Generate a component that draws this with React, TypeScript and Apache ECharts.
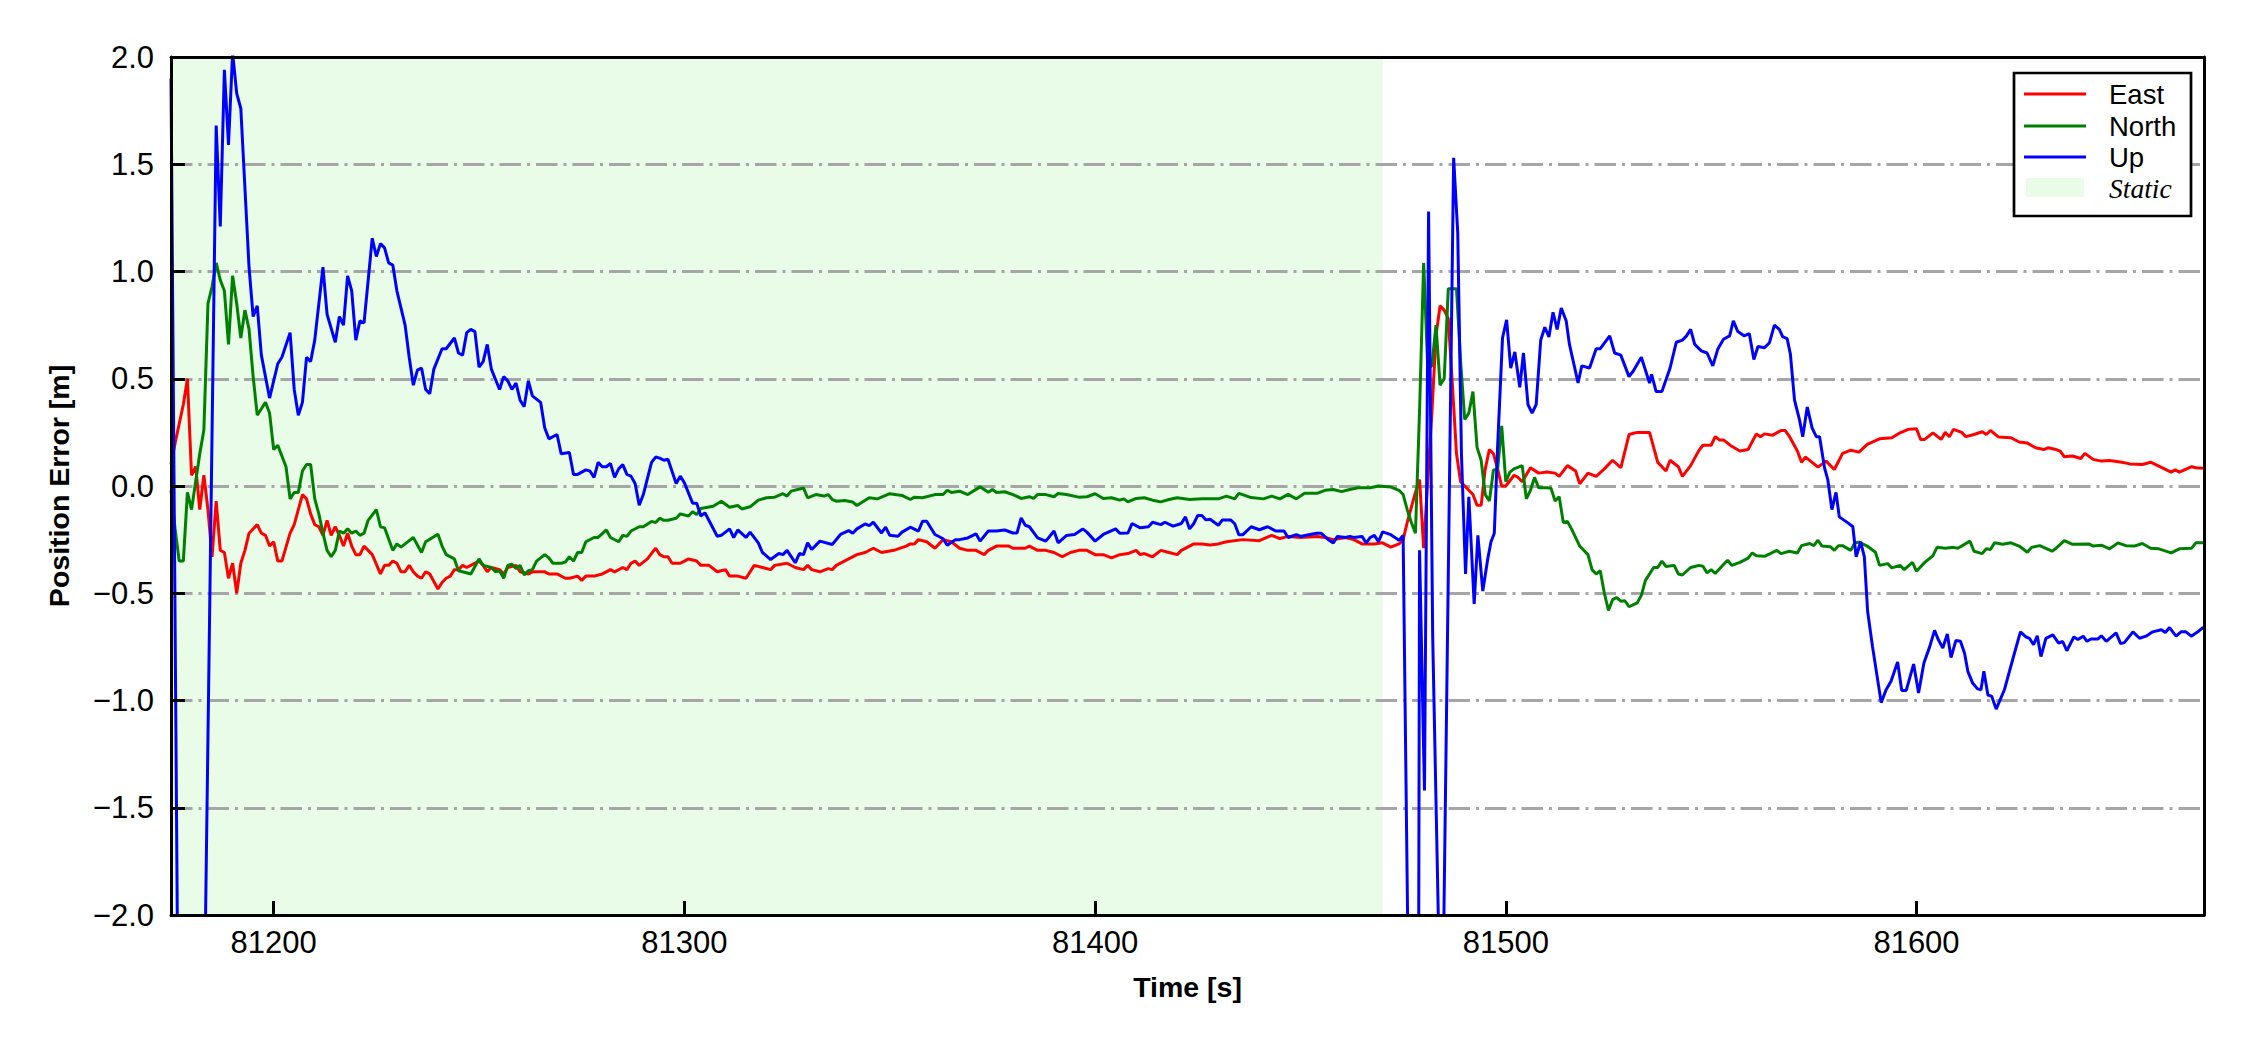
import React, { useEffect, useRef } from 'react';
import * as echarts from 'echarts';

const X_MIN = 81175;
const X_MAX = 81670;
const Y_MIN = -2;
const Y_MAX = 2;
const xTickValues = [81200, 81300, 81400, 81500, 81600];
const staticRange = [81175, 81470];

const eastData: number[][] = [
[81175,0.10],[81176,0.20],[81177,0.29],[81178,0.38],[81179,0.50],[81180,0.05],[81181,0.09],[81182,-0.11],[81183,0.05],[81184,-0.11],[81185,-0.33],[81186,-0.07],[81187,-0.30],[81188,-0.31],[81189,-0.43],[81190,-0.36],[81191,-0.50],[81192,-0.36],[81193,-0.30],[81194,-0.22],[81196,-0.18],[81197,-0.22],[81198,-0.23],[81199,-0.28],[81200,-0.26],[81201,-0.35],[81202,-0.35],[81204,-0.22],[81205,-0.18],[81207,-0.04],[81208,-0.06],[81209,-0.13],[81210,-0.18],[81211,-0.19],[81212,-0.23],[81213,-0.16],[81214,-0.23],[81215,-0.19],[81216,-0.23],[81217,-0.28],[81218,-0.22],[81219,-0.28],[81220,-0.32],[81221,-0.32],[81222,-0.28],[81223,-0.30],[81224,-0.32],[81226,-0.41],[81227,-0.37],[81228,-0.37],[81229,-0.35],[81230,-0.36],[81231,-0.40],[81232,-0.40],[81233,-0.37],[81234,-0.40],[81235,-0.42],[81236,-0.43],[81237,-0.40],[81238,-0.41],[81240,-0.48],[81241,-0.45],[81242,-0.43],[81243,-0.42],[81244,-0.39],[81245,-0.39],[81246,-0.37],[81247,-0.38],[81248,-0.37],[81250,-0.35],[81251,-0.37],[81252,-0.40],[81253,-0.38],[81255,-0.39],[81256,-0.41],[81257,-0.38],[81259,-0.37],[81260,-0.40],[81262,-0.41],[81263,-0.40],[81264,-0.40],[81266,-0.40],[81267,-0.41],[81269,-0.41],[81271,-0.43],[81272,-0.43],[81274,-0.42],[81275,-0.44],[81276,-0.42],[81278,-0.42],[81280,-0.41],[81281,-0.40],[81282,-0.39],[81283,-0.40],[81285,-0.38],[81286,-0.39],[81287,-0.36],[81288,-0.35],[81289,-0.37],[81291,-0.34],[81293,-0.29],[81294,-0.32],[81295,-0.33],[81296,-0.33],[81297,-0.36],[81299,-0.36],[81300,-0.35],[81301,-0.34],[81303,-0.35],[81304,-0.37],[81306,-0.37],[81308,-0.40],[81310,-0.39],[81311,-0.42],[81313,-0.42],[81315,-0.43],[81317,-0.37],[81319,-0.38],[81321,-0.39],[81322,-0.37],[81325,-0.36],[81327,-0.38],[81329,-0.39],[81330,-0.37],[81331,-0.39],[81333,-0.40],[81335,-0.385],[81336,-0.39],[81337,-0.37],[81340,-0.34],[81342,-0.32],[81344,-0.31],[81346,-0.29],[81348,-0.31],[81351,-0.30],[81354,-0.28],[81355,-0.27],[81356,-0.27],[81357,-0.25],[81359,-0.26],[81361,-0.29],[81363,-0.25],[81365,-0.26],[81367,-0.29],[81369,-0.30],[81371,-0.30],[81373,-0.32],[81374,-0.30],[81376,-0.28],[81379,-0.28],[81380,-0.29],[81383,-0.29],[81384,-0.28],[81386,-0.30],[81388,-0.30],[81390,-0.31],[81392,-0.33],[81394,-0.31],[81396,-0.30],[81398,-0.30],[81400,-0.32],[81402,-0.32],[81404,-0.335],[81406,-0.32],[81408,-0.315],[81410,-0.30],[81411,-0.32],[81412,-0.315],[81414,-0.33],[81416,-0.30],[81418,-0.31],[81420,-0.32],[81421,-0.30],[81423,-0.28],[81424,-0.27],[81426,-0.27],[81428,-0.275],[81430,-0.27],[81432,-0.26],[81436,-0.25],[81440,-0.255],[81443,-0.23],[81445,-0.245],[81447,-0.235],[81450,-0.24],[81454,-0.235],[81456,-0.24],[81458,-0.25],[81461,-0.24],[81463,-0.25],[81465,-0.27],[81468,-0.27],[81470,-0.265],[81472,-0.285],[81474,-0.27],[81475,-0.25],[81476,-0.17],[81477,-0.10],[81478,-0.03],[81479,0.03],[81480,-0.29],[81482,0.34],[81483,0.70],[81484,0.84],[81485,0.82],[81486,0.78],[81487,0.47],[81488,0.15],[81489,0.02],[81490,0.0],[81491,-0.02],[81492,-0.04],[81493,-0.09],[81494,-0.09],[81495,0.08],[81496,0.17],[81497,0.15],[81498,0.08],[81499,0.0],[81500,0.0],[81502,0.05],[81503,0.04],[81504,0.02],[81506,0.085],[81508,0.06],[81510,0.065],[81512,0.06],[81513,0.045],[81515,0.095],[81517,0.07],[81518,0.01],[81520,0.06],[81522,0.045],[81524,0.08],[81526,0.12],[81528,0.085],[81530,0.24],[81532,0.25],[81535,0.25],[81537,0.11],[81539,0.07],[81540,0.12],[81542,0.09],[81543,0.045],[81545,0.095],[81547,0.165],[81548,0.19],[81550,0.19],[81551,0.23],[81552,0.215],[81553,0.215],[81555,0.185],[81557,0.163],[81559,0.17],[81561,0.243],[81562,0.23],[81563,0.243],[81565,0.237],[81567,0.259],[81568,0.259],[81569,0.233],[81571,0.163],[81572,0.111],[81573,0.135],[81576,0.088],[81578,0.116],[81580,0.077],[81582,0.152],[81584,0.167],[81586,0.158],[81588,0.194],[81591,0.22],[81594,0.225],[81596,0.248],[81598,0.264],[81600,0.267],[81601,0.217],[81602,0.217],[81604,0.248],[81606,0.217],[81607,0.25],[81608,0.23],[81609,0.264],[81611,0.25],[81612,0.23],[81614,0.24],[81616,0.253],[81617,0.24],[81618,0.259],[81620,0.228],[81623,0.225],[81625,0.205],[81627,0.2],[81629,0.178],[81631,0.17],[81632,0.178],[81634,0.17],[81635,0.163],[81636,0.136],[81638,0.14],[81640,0.128],[81641,0.152],[81643,0.124],[81645,0.116],[81647,0.119],[81650,0.111],[81652,0.103],[81655,0.10],[81657,0.111],[81659,0.093],[81662,0.065],[81663,0.075],[81664,0.065],[81667,0.09],[81668,0.085],[81670,0.083]
];

const northData: number[][] = [
[81175,-0.02],[81176,-0.2],[81177,-0.35],[81178,-0.35],[81179,-0.03],[81180,-0.11],[81181,0.02],[81182,0.15],[81183,0.26],[81184,0.85],[81185,0.93],[81186,1.04],[81187,0.96],[81188,0.91],[81189,0.66],[81190,0.98],[81191,0.85],[81192,0.69],[81193,0.82],[81194,0.73],[81195,0.51],[81196,0.33],[81197,0.36],[81198,0.39],[81199,0.34],[81200,0.17],[81201,0.19],[81202,0.14],[81203,0.09],[81204,-0.06],[81205,-0.03],[81206,-0.03],[81207,0.07],[81208,0.10],[81209,0.10],[81210,-0.06],[81211,-0.13],[81212,-0.22],[81213,-0.30],[81214,-0.33],[81215,-0.30],[81216,-0.21],[81217,-0.22],[81218,-0.20],[81219,-0.22],[81220,-0.21],[81221,-0.23],[81222,-0.22],[81223,-0.16],[81225,-0.11],[81226,-0.19],[81227,-0.195],[81229,-0.30],[81230,-0.27],[81231,-0.285],[81232,-0.27],[81234,-0.24],[81236,-0.31],[81237,-0.26],[81240,-0.225],[81241,-0.28],[81242,-0.32],[81244,-0.34],[81245,-0.395],[81246,-0.40],[81248,-0.41],[81250,-0.34],[81251,-0.37],[81253,-0.38],[81254,-0.40],[81255,-0.395],[81256,-0.43],[81257,-0.37],[81258,-0.365],[81259,-0.385],[81260,-0.37],[81261,-0.415],[81262,-0.395],[81263,-0.39],[81264,-0.35],[81266,-0.32],[81267,-0.335],[81268,-0.36],[81270,-0.36],[81271,-0.355],[81272,-0.33],[81273,-0.35],[81274,-0.31],[81275,-0.31],[81276,-0.26],[81278,-0.24],[81279,-0.24],[81281,-0.205],[81282,-0.24],[81284,-0.26],[81285,-0.23],[81286,-0.235],[81287,-0.21],[81289,-0.19],[81290,-0.19],[81292,-0.165],[81293,-0.17],[81294,-0.15],[81295,-0.16],[81296,-0.16],[81298,-0.15],[81299,-0.13],[81301,-0.14],[81302,-0.12],[81303,-0.133],[81304,-0.105],[81307,-0.094],[81309,-0.071],[81311,-0.099],[81313,-0.091],[81314,-0.107],[81316,-0.097],[81318,-0.066],[81320,-0.055],[81322,-0.052],[81324,-0.036],[81325,-0.047],[81326,-0.024],[81329,-0.009],[81330,-0.055],[81332,-0.04],[81334,-0.047],[81335,-0.04],[81336,-0.063],[81337,-0.071],[81339,-0.068],[81341,-0.075],[81342,-0.091],[81345,-0.055],[81347,-0.06],[81350,-0.036],[81353,-0.044],[81355,-0.063],[81356,-0.052],[81358,-0.055],[81361,-0.04],[81363,-0.04],[81364,-0.02],[81365,-0.03],[81367,-0.024],[81369,-0.04],[81372,-0.004],[81374,-0.029],[81375,-0.016],[81376,-0.03],[81378,-0.027],[81380,-0.04],[81382,-0.058],[81384,-0.05],[81385,-0.058],[81386,-0.04],[81388,-0.04],[81390,-0.05],[81391,-0.035],[81393,-0.04],[81396,-0.052],[81398,-0.05],[81400,-0.036],[81402,-0.058],[81404,-0.055],[81406,-0.066],[81407,-0.06],[81408,-0.074],[81410,-0.058],[81412,-0.055],[81414,-0.066],[81416,-0.074],[81418,-0.063],[81420,-0.055],[81423,-0.063],[81426,-0.06],[81430,-0.06],[81432,-0.047],[81434,-0.06],[81435,-0.034],[81438,-0.054],[81441,-0.06],[81443,-0.047],[81445,-0.06],[81447,-0.039],[81449,-0.06],[81451,-0.034],[81454,-0.034],[81456,-0.02],[81458,-0.016],[81460,-0.026],[81462,-0.016],[81464,-0.008],[81467,-0.008],[81469,0.0],[81472,-0.005],[81474,-0.02],[81475,-0.04],[81476,-0.11],[81477,-0.17],[81478,-0.22],[81479,0.35],[81480,1.04],[81481,0.55],[81482,0.56],[81483,0.75],[81484,0.47],[81485,0.50],[81486,0.92],[81487,0.92],[81488,0.92],[81489,0.58],[81490,0.31],[81491,0.34],[81492,0.44],[81493,0.18],[81494,0.12],[81495,-0.04],[81496,-0.07],[81497,0.075],[81498,0.077],[81499,0.28],[81500,0.02],[81501,0.065],[81502,0.08],[81504,0.095],[81505,-0.06],[81506,-0.02],[81507,0.04],[81508,-0.008],[81510,-0.008],[81511,-0.01],[81512,-0.07],[81513,-0.05],[81514,-0.17],[81515,-0.165],[81516,-0.2],[81518,-0.28],[81520,-0.32],[81521,-0.39],[81522,-0.41],[81523,-0.395],[81524,-0.5],[81525,-0.58],[81526,-0.53],[81527,-0.52],[81528,-0.537],[81529,-0.535],[81530,-0.563],[81532,-0.545],[81533,-0.51],[81534,-0.44],[81536,-0.38],[81537,-0.38],[81538,-0.35],[81539,-0.375],[81541,-0.37],[81542,-0.41],[81543,-0.415],[81545,-0.38],[81546,-0.375],[81547,-0.37],[81548,-0.374],[81549,-0.405],[81550,-0.39],[81551,-0.408],[81553,-0.366],[81554,-0.346],[81555,-0.37],[81557,-0.356],[81559,-0.336],[81560,-0.312],[81561,-0.325],[81563,-0.328],[81566,-0.30],[81567,-0.315],[81569,-0.304],[81571,-0.312],[81572,-0.278],[81574,-0.268],[81575,-0.278],[81576,-0.253],[81577,-0.28],[81579,-0.283],[81580,-0.30],[81581,-0.278],[81582,-0.278],[81584,-0.30],[81585,-0.265],[81586,-0.262],[81588,-0.28],[81590,-0.309],[81591,-0.37],[81593,-0.362],[81594,-0.382],[81596,-0.37],[81597,-0.39],[81599,-0.356],[81600,-0.397],[81602,-0.356],[81604,-0.325],[81605,-0.286],[81607,-0.29],[81609,-0.286],[81610,-0.29],[81611,-0.28],[81613,-0.257],[81614,-0.304],[81616,-0.315],[81617,-0.293],[81618,-0.296],[81619,-0.265],[81621,-0.272],[81623,-0.265],[81625,-0.28],[81627,-0.309],[81628,-0.286],[81630,-0.278],[81633,-0.304],[81634,-0.29],[81636,-0.255],[81638,-0.272],[81642,-0.27],[81643,-0.28],[81645,-0.276],[81647,-0.293],[81648,-0.28],[81649,-0.265],[81651,-0.278],[81653,-0.28],[81655,-0.268],[81657,-0.29],[81659,-0.293],[81662,-0.312],[81664,-0.293],[81667,-0.29],[81668,-0.265],[81670,-0.265]
];

const upData: number[][] = [
[81175,1.9],[81177,-3.2],[81183,-2.6],[81186,1.68],[81187,1.21],[81188,1.94],[81189,1.59],[81190,2.02],[81191,1.83],[81192,1.76],[81194,1.02],[81195,0.79],[81196,0.84],[81197,0.61],[81199,0.41],[81201,0.57],[81202,0.60],[81204,0.715],[81205,0.45],[81206,0.33],[81207,0.39],[81208,0.60],[81209,0.58],[81210,0.68],[81212,1.02],[81213,0.80],[81215,0.67],[81216,0.79],[81217,0.75],[81218,0.98],[81219,0.91],[81220,0.68],[81221,0.77],[81222,0.76],[81224,1.155],[81225,1.07],[81226,1.13],[81227,1.11],[81228,1.04],[81229,1.03],[81230,0.91],[81232,0.75],[81233,0.60],[81234,0.47],[81235,0.54],[81236,0.55],[81237,0.45],[81238,0.43],[81239,0.545],[81241,0.64],[81242,0.64],[81244,0.69],[81245,0.62],[81246,0.61],[81247,0.715],[81248,0.73],[81249,0.72],[81250,0.554],[81251,0.58],[81252,0.66],[81253,0.545],[81255,0.45],[81256,0.51],[81257,0.49],[81258,0.45],[81259,0.48],[81260,0.40],[81261,0.37],[81262,0.49],[81263,0.42],[81265,0.39],[81266,0.27],[81267,0.22],[81269,0.24],[81270,0.15],[81272,0.156],[81273,0.054],[81274,0.054],[81276,0.075],[81277,0.07],[81278,0.04],[81279,0.11],[81280,0.09],[81281,0.09],[81282,0.105],[81283,0.04],[81284,0.08],[81285,0.10],[81286,0.054],[81287,0.046],[81288,0.012],[81289,-0.09],[81290,-0.04],[81292,0.11],[81293,0.135],[81294,0.13],[81295,0.12],[81296,0.125],[81298,0.012],[81299,0.046],[81300,0.015],[81302,-0.08],[81303,-0.08],[81304,-0.14],[81305,-0.125],[81308,-0.234],[81309,-0.23],[81311,-0.20],[81312,-0.24],[81313,-0.205],[81315,-0.24],[81316,-0.215],[81318,-0.265],[81319,-0.31],[81321,-0.343],[81323,-0.315],[81324,-0.32],[81325,-0.30],[81327,-0.358],[81328,-0.315],[81329,-0.32],[81330,-0.265],[81331,-0.296],[81333,-0.257],[81336,-0.273],[81338,-0.226],[81340,-0.208],[81341,-0.22],[81342,-0.20],[81344,-0.177],[81345,-0.185],[81346,-0.169],[81348,-0.219],[81349,-0.192],[81350,-0.23],[81352,-0.234],[81353,-0.215],[81355,-0.192],[81357,-0.21],[81358,-0.164],[81359,-0.164],[81361,-0.226],[81363,-0.246],[81364,-0.276],[81366,-0.25],[81367,-0.25],[81369,-0.242],[81371,-0.223],[81372,-0.257],[81374,-0.21],[81376,-0.21],[81378,-0.205],[81380,-0.219],[81381,-0.219],[81382,-0.149],[81383,-0.183],[81384,-0.19],[81386,-0.242],[81388,-0.257],[81390,-0.21],[81391,-0.265],[81393,-0.231],[81395,-0.226],[81397,-0.20],[81398,-0.215],[81400,-0.257],[81402,-0.226],[81405,-0.20],[81406,-0.22],[81408,-0.219],[81409,-0.175],[81411,-0.195],[81413,-0.19],[81414,-0.169],[81416,-0.18],[81417,-0.169],[81419,-0.187],[81421,-0.175],[81422,-0.144],[81423,-0.2],[81424,-0.176],[81425,-0.137],[81426,-0.137],[81427,-0.158],[81428,-0.155],[81430,-0.183],[81431,-0.158],[81433,-0.158],[81434,-0.176],[81435,-0.227],[81436,-0.227],[81438,-0.19],[81440,-0.204],[81442,-0.19],[81444,-0.21],[81446,-0.21],[81447,-0.24],[81449,-0.227],[81450,-0.235],[81452,-0.227],[81454,-0.22],[81455,-0.22],[81457,-0.253],[81458,-0.266],[81459,-0.235],[81461,-0.24],[81462,-0.235],[81463,-0.24],[81465,-0.235],[81466,-0.266],[81467,-0.24],[81468,-0.23],[81469,-0.26],[81470,-0.214],[81472,-0.227],[81474,-0.253],[81475,-0.23],[81477,-3.5],[81478,-9],[81479,-0.30],[81480.2,-1.42],[81481.2,1.28],[81482.2,-0.70],[81484.4,-2.8],[81487.3,1.53],[81488.3,1.18],[81489.2,0.15],[81490.2,-0.41],[81491,-0.05],[81492.3,-0.55],[81493.2,-0.23],[81494.4,-0.49],[81495.6,-0.34],[81496.4,-0.26],[81497.2,-0.22],[81498,0.18],[81499.2,0.69],[81500.2,0.775],[81501.2,0.55],[81502.2,0.625],[81503.4,0.46],[81504.3,0.62],[81505.4,0.38],[81506.4,0.34],[81507.4,0.38],[81508.5,0.68],[81509.5,0.74],[81510.5,0.695],[81511.5,0.81],[81512.5,0.73],[81513.5,0.83],[81514.7,0.77],[81515.5,0.66],[81517.6,0.48],[81518.5,0.56],[81520.4,0.55],[81522,0.64],[81523,0.64],[81525.3,0.70],[81526.5,0.62],[81528,0.61],[81530,0.51],[81531,0.535],[81533,0.60],[81535,0.48],[81535.5,0.52],[81536.6,0.44],[81538,0.44],[81540,0.55],[81541.5,0.67],[81543,0.68],[81544,0.70],[81545,0.73],[81546,0.66],[81547.6,0.63],[81549,0.62],[81550.4,0.56],[81551.6,0.637],[81553,0.684],[81554.5,0.70],[81555.4,0.77],[81556.5,0.72],[81558,0.70],[81559.3,0.71],[81560.4,0.59],[81561.4,0.65],[81563,0.645],[81564.2,0.668],[81565.4,0.75],[81566.6,0.73],[81567.4,0.696],[81568.5,0.687],[81569.3,0.614],[81570.3,0.40],[81571.5,0.31],[81572.3,0.23],[81573.4,0.368],[81574.6,0.27],[81575.6,0.23],[81576.4,0.23],[81577.6,0.085],[81578.4,0.03],[81579.4,-0.11],[81580.4,-0.03],[81581.2,-0.144],[81583.3,-0.172],[81584.5,-0.19],[81585.3,-0.33],[81586.4,-0.26],[81587.3,-0.33],[81588.1,-0.585],[81589.3,-0.75],[81591.4,-1.01],[81592.6,-0.95],[81593.8,-0.91],[81595.4,-0.82],[81596.4,-0.953],[81597.5,-0.953],[81599.3,-0.83],[81600.5,-0.965],[81601.8,-0.825],[81603.2,-0.75],[81604.4,-0.673],[81605.3,-0.716],[81606.4,-0.755],[81607.5,-0.69],[81608.4,-0.80],[81609.6,-0.72],[81610.7,-0.724],[81611.7,-0.78],[81612.5,-0.864],[81613.7,-0.92],[81614.9,-0.946],[81615.7,-0.95],[81616.4,-0.864],[81617.4,-0.975],[81618.3,-0.98],[81619.4,-1.04],[81621.4,-0.95],[81623.4,-0.81],[81625.3,-0.68],[81626.7,-0.704],[81627.5,-0.71],[81628.5,-0.74],[81629.4,-0.698],[81630.3,-0.795],[81631.5,-0.71],[81633.2,-0.694],[81634.6,-0.732],[81635.6,-0.725],[81636.6,-0.768],[81638.3,-0.704],[81639.3,-0.716],[81640.6,-0.70],[81641.5,-0.724],[81642.5,-0.713],[81644.2,-0.713],[81645,-0.698],[81646.2,-0.724],[81648.6,-0.685],[81649.7,-0.735],[81650.6,-0.73],[81652.7,-0.68],[81654.3,-0.71],[81655.9,-0.70],[81657.5,-0.68],[81659.6,-0.67],[81660.6,-0.683],[81661.6,-0.66],[81663.2,-0.70],[81664.4,-0.68],[81665.6,-0.68],[81666.9,-0.70],[81668.5,-0.68],[81669.7,-0.66],[81670.5,-0.665]
];

const seriesNames = ['East', 'North', 'Up'];
const seriesColors = ['#ff0000', '#008000', '#0000ff'];
const staticLabel = 'Static';
const staticColor = '#e8fce8';

const SANS = '"Liberation Sans", Arial, Helvetica, sans-serif';
const SERIF = '"Liberation Serif", "Times New Roman", serif';

export default function App() {
  const ref = useRef<HTMLDivElement>(null);

  useEffect(() => {
    document.body.style.margin = '0';
    if (!ref.current) return;
    const chart = echarts.init(ref.current, null, { renderer: 'svg' });

    const fmtY = (v: number) => (v < 0 ? '\u2212' : '') + Math.abs(v).toFixed(1);
    const fmtX = (v: number) => String(Math.round(v));
    const spine = { show: true, onZero: false, lineStyle: { color: '#000', width: 3 } };
    const hidden = { show: false };

    const lineSeries = [eastData, northData, upData].map((d, i) => ({
      type: 'line',
      name: seriesNames[i],
      data: d,
      xAxisIndex: 0,
      yAxisIndex: 0,
      symbol: 'none',
      showSymbol: false,
      clip: true,
      color: seriesColors[i],
      lineStyle: { color: seriesColors[i], width: 3 },
      z: 2 + i * 0.01,
      silent: true,
    }));

    const legendX = 2014, legendY = 73, legendW = 177, legendH = 143;
    const rowY = [94, 126, 157, 188];
    const legendGraphics: any[] = [
      { type: 'rect', shape: { x: legendX, y: legendY, width: legendW, height: legendH }, style: { fill: '#fff', stroke: '#000', lineWidth: 2.7 }, z: 100 },
    ];
    seriesNames.forEach((n, i) => {
      legendGraphics.push({ type: 'line', shape: { x1: 2024, y1: rowY[i], x2: 2086, y2: rowY[i] }, style: { stroke: seriesColors[i], lineWidth: 3 }, z: 101 });
      legendGraphics.push({ type: 'text', x: 2109, y: rowY[i], style: { text: n, fontSize: 27.5, fontFamily: SANS, fill: '#000', verticalAlign: 'middle', textVerticalAlign: 'middle' }, z: 101 });
    });
    legendGraphics.push({ type: 'rect', shape: { x: 2026, y: 178, width: 58, height: 19 }, style: { fill: staticColor }, z: 101 });
    legendGraphics.push({ type: 'text', x: 2109, y: rowY[3], style: { text: staticLabel, fontSize: 27.5, fontStyle: 'italic', fontFamily: SERIF, fill: '#000', verticalAlign: 'middle', textVerticalAlign: 'middle' }, z: 101 });

    const option: any = {
      animation: false,
      backgroundColor: '#ffffff',
      grid: { left: 171, right: 46, top: 57, bottom: 135, containLabel: false, outerBoundsMode: 'none' },
      xAxis: [
        {
          type: 'value', min: X_MIN, max: X_MAX, position: 'bottom', z: 5,
          axisLine: spine,
          axisTick: { show: true, inside: true, length: 14, customValues: xTickValues, lineStyle: { color: '#000', width: 3 } },
          axisLabel: { show: true, customValues: xTickValues, formatter: fmtX, margin: 12, fontSize: 31, fontFamily: SANS, color: '#000' },
          splitLine: hidden,
          name: 'Time [s]', nameLocation: 'middle', nameGap: 57,
          nameTextStyle: { fontSize: 28.5, fontWeight: 'bold', fontFamily: SANS, color: '#000' },
        },
        {
          type: 'value', min: X_MIN, max: X_MAX, position: 'top', z: 5,
          axisLine: spine, axisTick: hidden, axisLabel: hidden, splitLine: hidden,
        },
      ],
      yAxis: [
        {
          type: 'value', min: Y_MIN, max: Y_MAX, interval: 0.5, position: 'left', z: 5,
          axisLine: spine,
          axisTick: { show: true, inside: true, length: 14, lineStyle: { color: '#000', width: 3 } },
          axisLabel: { show: true, formatter: fmtY, margin: 17, fontSize: 31, fontFamily: SANS, color: '#000', showMinLabel: true, showMaxLabel: true },
          splitLine: hidden,
          name: 'Position Error [m]', nameLocation: 'middle', nameGap: 98,
          nameTextStyle: { fontSize: 28.5, fontWeight: 'bold', fontFamily: SANS, color: '#000' },
        },
        {
          type: 'value', min: Y_MIN, max: Y_MAX, interval: 0.5, position: 'left', z: 1,
          axisLine: hidden, axisTick: hidden, axisLabel: hidden,
          splitLine: { show: true, lineStyle: { color: '#a6a6a6', width: 2.8, type: [21.5, 6, 3, 6] } },
        },
        {
          type: 'value', min: Y_MIN, max: Y_MAX, position: 'right', z: 5,
          axisLine: spine, axisTick: hidden, axisLabel: hidden, splitLine: hidden,
        },
      ],
      series: [
        {
          type: 'line',
          name: staticLabel,
          data: [[staticRange[0], Y_MAX], [staticRange[1], Y_MAX]],
          xAxisIndex: 0,
          yAxisIndex: 0,
          symbol: 'none',
          showSymbol: false,
          lineStyle: { width: 0, opacity: 0 },
          areaStyle: { color: staticColor, opacity: 1, origin: 'start' },
          z: 0,
          silent: true,
        },
        ...lineSeries,
      ],
      graphic: legendGraphics,
    };

    chart.setOption(option);
    return () => chart.dispose();
  }, []);

  return <div ref={ref} style={{ width: 2250, height: 1050 }} />;
}
